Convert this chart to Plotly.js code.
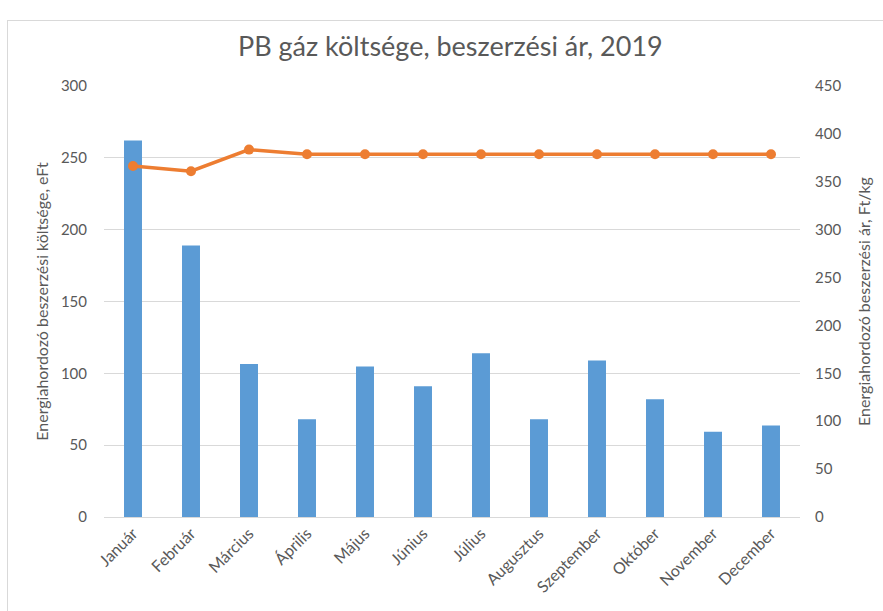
<!DOCTYPE html>
<html><head><meta charset="utf-8">
<script src="https://cdn.plot.ly/plotly-3.0.1.min.js"></script>
<style>
body{margin:0;padding:0;background:#fff;}
#frame{position:absolute;left:7px;top:20px;width:900px;height:620px;border:1px solid #D9D9D9;}
#chart{position:absolute;left:0;top:0;width:883px;height:611px;}
</style></head>
<body>
<div id="frame"></div>
<div id="chart"></div>
<script>
const months = ["Január","Február","Március","Április","Május","Június","Július","Augusztus","Szeptember","Október","November","December"];
const costs = [262,189,106.5,68,104.7,91,114,68,109,82,59.3,63.7];
const prices = [366.5,361,383.6,378.7,378.7,378.7,378.7,378.7,378.7,378.7,378.7,378.7];

const FONT = "Lato, Roboto, sans-serif";
const GRAY = "#595959";

const data = [
  {type:"bar", x:months, y:costs, name:"Költség", marker:{color:"#5B9BD5"}, yaxis:"y"},
  {type:"scatter", mode:"lines+markers", x:months, y:prices, name:"Ár", yaxis:"y2", cliponaxis:false,
   line:{color:"#ED7D31", width:3.5}, marker:{color:"#ED7D31", size:10}}
];
const layout = {
  width:883, height:611,
  margin:{l:104, r:83, t:86, b:94},
  paper_bgcolor:"rgba(0,0,0,0)", plot_bgcolor:"rgba(0,0,0,0)",
  showlegend:false,
  bargap:0.69,
  font:{family:FONT, color:GRAY, size:15},
  title:{text:"PB gáz költsége, beszerzési ár, 2019", x:0.51, xanchor:"center", y:0.923, yanchor:"middle",
         font:{family:FONT, size:27, color:GRAY}, automargin:false},
  xaxis:{type:"category", range:[-0.5, 11.5], autorange:false, tickangle:-45, showgrid:false, showline:true,
         linecolor:"#D9D9D9", linewidth:1, ticks:"", tickfont:{size:16, color:GRAY}, automargin:false},
  yaxis:{range:[0,300], dtick:50, gridcolor:"#D9D9D9", gridwidth:1, zeroline:false, showline:false,
         ticks:"", ticklabelstandoff:16, tickfont:{size:15, color:GRAY}, automargin:false,
         title:{text:"Energiahordozó beszerzési költsége, eFt", font:{size:16, color:GRAY}, standoff:8}},
  yaxis2:{range:[0,450], dtick:50, overlaying:"y", side:"right", showgrid:false, zeroline:false, showline:false,
          ticks:"", ticklabelstandoff:14, tickfont:{size:15, color:GRAY}, automargin:false,
          title:{text:"Energiahordozó beszerzési ár, Ft/kg", font:{size:16, color:GRAY}, standoff:18}}
};
Plotly.newPlot("chart", data, layout, {displayModeBar:false, staticPlot:true});
</script>
</body></html>
